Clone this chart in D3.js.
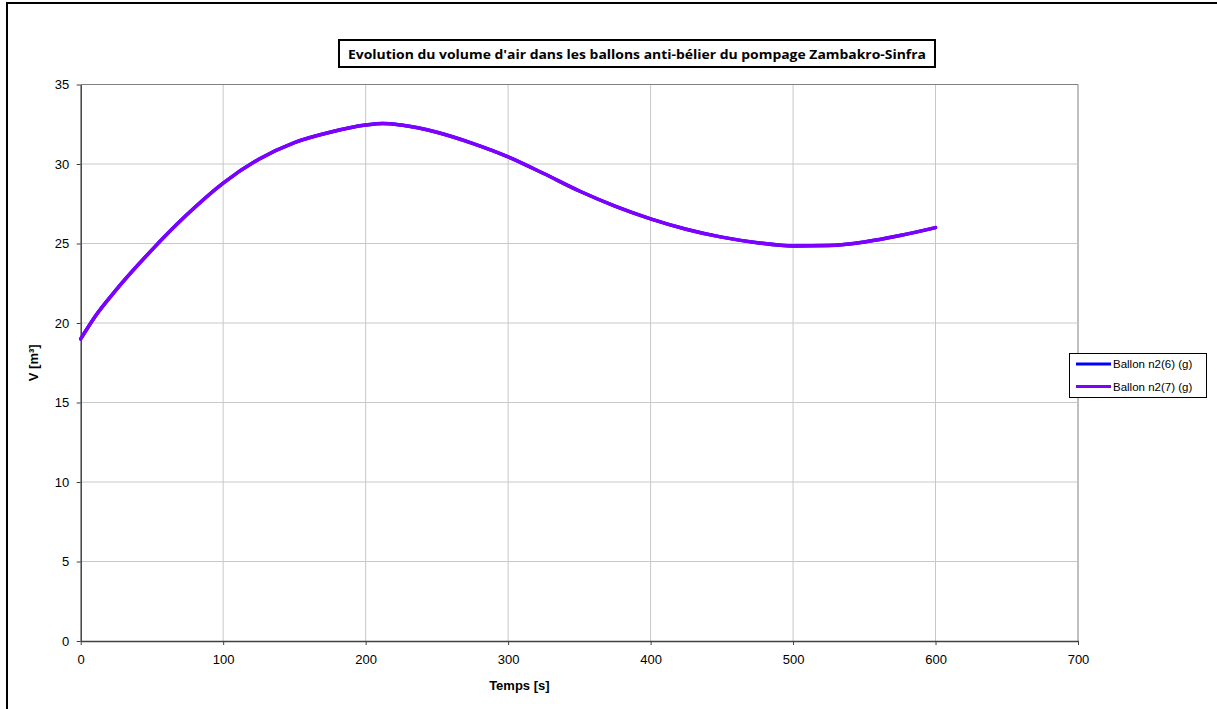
<!DOCTYPE html>
<html><head><meta charset="utf-8">
<script src="https://cdn.jsdelivr.net/npm/d3@7"></script>
<style>body{margin:0;background:#fff}svg{display:block}</style>
</head><body>
<svg id="c" width="1217" height="709"></svg>
<script>
const title = "Evolution du volume d'air dans les ballons anti-bélier du pompage Zambakro-Sinfra";
const xLabel = "Temps [s]";
const yLabel = "V [m³]";
const seriesNames = ["Ballon n2(6) (g)", "Ballon n2(7) (g)"];
const seriesColors = ["#0000ff", "#8000ff"];
const xTicks = [0,100,200,300,400,500,600,700];
const yTicks = [0,5,10,15,20,25,30,35];
const times = [0,10,25,50,75,100,125,150,175,200,212,225,250,275,300,325,350,375,400,425,450,475,500,525,550,575,600];
const ballon6 = [19.0,20.4,22.1,24.6,26.85,28.8,30.3,31.35,32.0,32.45,32.55,32.45,32.0,31.3,30.45,29.4,28.3,27.35,26.55,25.9,25.4,25.05,24.85,24.88,25.1,25.5,26.0];
const ballon7 = [19.0,20.4,22.1,24.6,26.85,28.8,30.3,31.35,32.0,32.45,32.55,32.45,32.0,31.3,30.45,29.4,28.3,27.35,26.55,25.9,25.4,25.05,24.85,24.88,25.1,25.5,26.0];

const svg = d3.select("#c");
const font = "'Liberation Sans', Arial, sans-serif";
svg.append("rect").attr("x",7).attr("y",3).attr("width",1212).attr("height",710)
  .attr("fill","#fff").attr("stroke","#000").attr("stroke-width",2);

const L=80.7, R=1078, T=84.5, B=641;
const x = d3.scaleLinear().domain([0,700]).range([L,R]);
const y = d3.scaleLinear().domain([0,35]).range([B,T]);

const g = svg.append("g");
g.selectAll(".gx").data(xTicks.slice(1)).join("line")
  .attr("x1",d=>x(d)).attr("x2",d=>x(d)).attr("y1",T).attr("y2",B)
  .attr("stroke",d=>d===700?"#808080":"#c8c8c8").attr("stroke-width",1);
g.selectAll(".gy").data(yTicks.slice(1)).join("line")
  .attr("x1",L).attr("x2",R).attr("y1",d=>y(d)).attr("y2",d=>y(d))
  .attr("stroke",d=>d===35?"#808080":"#c8c8c8").attr("stroke-width",1);

const xa = svg.append("g").attr("transform",`translate(0,${B})`)
  .call(d3.axisBottom(x).tickValues(xTicks).tickSize(4).tickSizeOuter(0));
const ya = svg.append("g").attr("transform",`translate(${L},0)`)
  .call(d3.axisLeft(y).tickValues(yTicks).tickSize(4).tickSizeOuter(0));
[xa,ya].forEach(a=>{
  a.select(".domain").attr("stroke","#404040").attr("stroke-width",1.5);
  a.selectAll(".tick line").attr("stroke","#404040");
  a.selectAll("text").attr("font-family",font).attr("font-size",13).attr("fill","#000");
});
xa.selectAll("text").attr("dy","1.2em");
ya.selectAll("text").attr("dx","-0.35em");

const line = d3.line().x((d,i)=>x(times[i])).y(d=>y(d)).curve(d3.curveMonotoneX);
[ballon6,ballon7].forEach((s,i)=>{
  svg.append("path").datum(s).attr("d",line).attr("fill","none")
    .attr("stroke",seriesColors[i]).attr("stroke-width",3.5).attr("stroke-linejoin","round")
    .attr("stroke-linecap","round");
});

svg.append("text").attr("x",(L+R)/2-60).attr("y",690).attr("text-anchor","middle")
  .attr("font-family",font).attr("font-weight","bold").attr("font-size",13).text(xLabel);
svg.append("text").attr("transform",`translate(38,${(T+B)/2}) rotate(-90)`).attr("text-anchor","middle")
  .attr("font-family",font).attr("font-weight","bold").attr("font-size",13).text(yLabel);

svg.append("rect").attr("x",339).attr("y",40).attr("width",596).attr("height",27)
  .attr("fill","#fff").attr("stroke","#000").attr("stroke-width",2);
svg.append("text").attr("x",637).attr("y",58.5).attr("text-anchor","middle")
  .attr("font-family","'Open Sans', sans-serif").attr("font-weight","bold").attr("font-size",13)
  .attr("textLength",578).attr("lengthAdjust","spacingAndGlyphs").text(title);

const lg = svg.append("g");
lg.append("rect").attr("x",1069.5).attr("y",353.5).attr("width",137).attr("height",44)
  .attr("fill","#fff").attr("stroke","#000").attr("stroke-width",1);
seriesNames.forEach((n,i)=>{
  const yy = 364 + i*22.5;
  lg.append("line").attr("x1",1076).attr("x2",1111).attr("y1",yy).attr("y2",yy)
    .attr("stroke",seriesColors[i]).attr("stroke-width",3);
  lg.append("text").attr("x",1113).attr("y",yy+4).attr("font-family",font).attr("font-size",11.5)
    .text(n);
});
</script>
</body></html>
